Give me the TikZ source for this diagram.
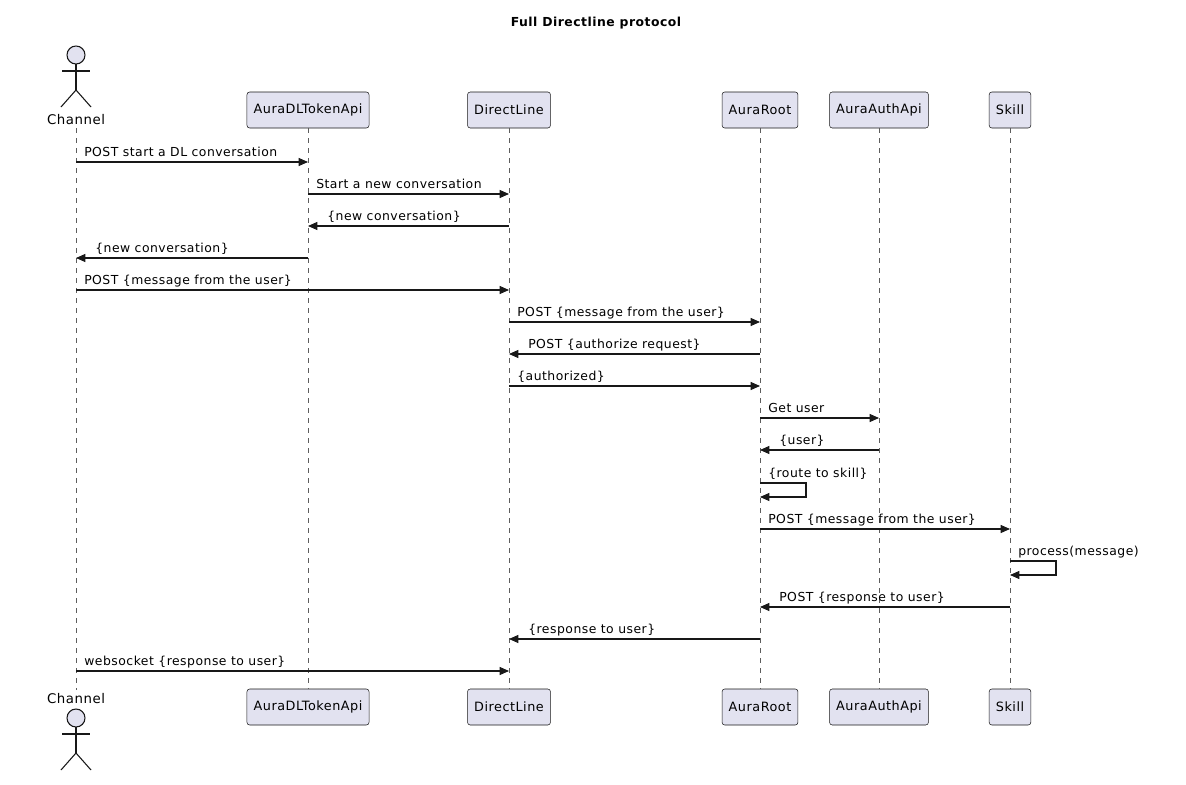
\documentclass[tikz,border=0pt]{standalone}
\usepackage{fontspec}
\setmainfont[LetterSpace=4]{DejaVu Sans}
\usetikzlibrary{arrows.meta,positioning,calc}
\definecolor{partfill}{HTML}{E2E2F0}
\definecolor{ink}{HTML}{181818}
\tikzset{
    part/.style={draw=ink, fill=partfill, rounded corners=2pt, minimum height=27pt, inner xsep=5pt, font=\fontsize{9.6}{12}\selectfont},
    life/.style={draw=ink!70, dash pattern=on 3.75pt off 3.75pt, line width=0.4pt},
    msg/.style={draw=ink, line width=0.8pt, -{Triangle[length=7pt,width=6pt]}},
    lbl/.style={font=\fontsize{9.3}{12}\selectfont, inner sep=0pt, anchor=base west},
    actorline/.style={draw=ink, line width=0.8pt}
}
\begin{document}
\begin{tikzpicture}[x=0.75pt,y=-0.75pt]
    % Frame
    \useasboundingbox (0,0) rectangle (1186,785);
    \fill[white] (0,0) rectangle (1186,785);

    % Title
    \node[font=\bfseries\fontsize{9.3}{12}\selectfont] (title) at (596,23) {Full Directline protocol};

    % Participants top and bottom
    \foreach \nm/\x/\txt in {tok/308/AuraDLTokenApi, dl/509/DirectLine, root/760/AuraRoot, auth/879/AuraAuthApi, skill/1010/Skill} {
        \node[part] (\nm T) at (\x,110) {\txt};
        \node[part] (\nm B) at (\x,707) {\txt};
        \draw[life] (\nm T.south) -- (\nm B.north);
    }

    % Actor Channel
    \foreach \hy/\nm/\ly in {55/chT/120, 718/chB/699} {
        \draw[actorline, fill=partfill] (76,\hy) circle (9);
        \draw[actorline] (76,\hy+9) -- (76,\hy+35);
        \draw[actorline] (62,\hy+16) -- (90,\hy+16);
        \draw[actorline] (61,\hy+52) -- (76,\hy+35) -- (91,\hy+52);
        \node[font=\fontsize{10}{12}\selectfont] (\nm) at (76,\ly) {Channel};
    }
    \draw[life] (76,128) -- (76,690);

    % Messages
    \coordinate (ch) at (76,0);
    \foreach \a/\b/\y/\txt in {
        ch/tokT/162/{POST start a DL conversation},
        tokT/dlT/194/{Start a new conversation},
        ch/dlT/290/{POST \{message from the user\}},
        dlT/rootT/322/{POST \{message from the user\}},
        dlT/rootT/386/{\{authorized\}},
        rootT/authT/418/{Get user},
        rootT/skillT/529/{POST \{message from the user\}},
        ch/dlT/671/{websocket \{response to user\}}} {
        \draw[msg] (\a |- 0,\y) -- (\b |- 0,\y);
        \node[lbl] at ($(\a |- 0,\y)+(8,-6)$) {\txt};
    }
    \foreach \a/\b/\y/\txt in {
        dlT/tokT/226/{\{new conversation\}},
        tokT/ch/258/{\{new conversation\}},
        rootT/dlT/354/{POST \{authorize request\}},
        authT/rootT/450/{\{user\}},
        skillT/rootT/607/{POST \{response to user\}},
        rootT/dlT/639/{\{response to user\}}} {
        \draw[msg] (\a |- 0,\y) -- (\b |- 0,\y);
        \node[lbl] at ($(\b |- 0,\y)+(19,-6)$) {\txt};
    }

    % Self messages
    \foreach \p/\y/\txt in {rootT/483/{\{route to skill\}}, skillT/561/{process(message)}} {
        \draw[msg] (\p |- 0,\y) -- ++(46,0) -- ++(0,14) -- ($(\p |- 0,\y)+(0,14)$);
        \node[lbl] at ($(\p |- 0,\y)+(8,-6)$) {\txt};
    }
\end{tikzpicture}
\end{document}
